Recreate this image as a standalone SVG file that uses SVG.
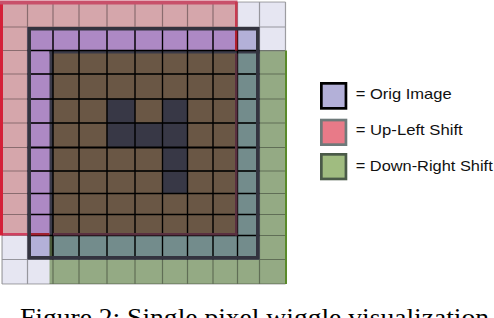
<svg xmlns="http://www.w3.org/2000/svg" width="494" height="318" viewBox="0 0 494 318">
<style>
.gl{stroke:#000;stroke-opacity:0.35;stroke-width:1.2;fill:none}
.bl{stroke:#000;stroke-width:1.3;fill:none}
.lt{font-family:"Liberation Sans",Arial,sans-serif;font-size:14.5px;fill:#111}
.cap{font-family:"Liberation Serif","Times New Roman",serif;font-size:25px;fill:#000}
</style>
<rect width="494" height="318" fill="#fff"/>
<g id="grid">
  <rect x="2" y="2" width="283.5" height="282" fill="#e6e6f2"/>
  <rect x="2" y="2" width="235.5" height="233.5" fill="#d5a6ab"/>
  <rect x="49.5" y="50.5" width="236" height="233.5" fill="#94aa84"/>
  <rect x="27.5" y="27" width="232" height="232.5" fill="#b3b0d8"/>
  <rect x="27.5" y="27" width="210" height="208.5" fill="#ad89c4"/>
  <rect x="53" y="50.5" width="206.5" height="209" fill="#738c8c"/>
  <rect x="53" y="50.5" width="184.5" height="185" fill="#6a5745"/>
  <g fill="#383846">
    <rect x="107" y="99" width="28" height="24"/>
    <rect x="162.5" y="99" width="25" height="24"/>
    <rect x="107" y="123" width="80.5" height="24.5"/>
    <rect x="162.5" y="147.5" width="25" height="46"/>
  </g>
  <!-- down-right box edge inside the original -->
  <rect x="49.5" y="50.5" width="3.5" height="185" fill="#3a3a48"/>
  <rect x="49.5" y="235.5" width="3.5" height="24" fill="#4a5a3a"/>
  <rect x="49.5" y="50.5" width="210" height="3" fill="#3a3a48"/>
  <line x1="259.5" y1="51" x2="285.5" y2="51" stroke="#777" stroke-width="1.2" stroke-dasharray="1 1"/>
  <!-- grid lines (gray) -->
  <path class="gl" d="M2 2V284M27.5 2V284M53 2V284M79 2V284M107 2V284M135 2V284M162.5 2V284M187.5 2V284M213 2V284M237.5 2V284M259.5 2V284M285.5 2V50.5
  M2 2H285.5M2 27H285.5M2 50.5H285.5M2 74H285.5M2 99H285.5M2 123H285.5M2 147.5H285.5M2 171H285.5M2 193.5H285.5M2 214.5H285.5M2 235.5H285.5M2 259.5H285.5M2 284H285.5"/>
  <!-- grid lines inside original (black) -->
  <path class="bl" d="M53 27V259.5M79 27V259.5M107 27V259.5M135 27V259.5M162.5 27V259.5M187.5 27V259.5M213 27V259.5M237.5 27V259.5
  M27.5 50.5H259.5M27.5 74H259.5M27.5 99H259.5M27.5 123H259.5M27.5 171H259.5M27.5 193.5H259.5M27.5 214.5H259.5M27.5 235.5H259.5"/>
  <path d="M27.5 147.5H259.5" stroke="#000" stroke-width="2.2"/>
  <!-- up-left shift border -->
  <rect x="0" y="2" width="3" height="233.5" fill="#d42038"/>
  <rect x="0" y="0.5" width="237.5" height="4" fill="#c8506a"/>
  <rect x="235" y="2" width="2.5" height="25" fill="#c83a50"/>
  <rect x="235" y="27" width="2.5" height="23.5" fill="#b02030"/>
  <rect x="235" y="53.5" width="2.5" height="182" fill="#5a3040"/>
  <rect x="3" y="233" width="24.5" height="2.5" fill="#d04060"/>
  <rect x="27.5" y="233" width="22" height="2.5" fill="#a02030"/>
  <rect x="53" y="233" width="184.5" height="2.5" fill="#5a3040"/>
  <!-- down-right shift outer edge -->
  <rect x="285" y="50.5" width="2" height="233.5" fill="#5a8a2a"/>
  <!-- original image border -->
  <rect x="29.25" y="28.75" width="228.5" height="229" fill="none" stroke="#33333f" stroke-width="3.5"/>
</g>
<g id="legend-orig">
  <rect x="321.35" y="83.35" width="24.6" height="25" fill="#b3b0d8" stroke="#000" stroke-width="2.7"/>
  <text class="lt" x="355.7" y="99.3" textLength="96" lengthAdjust="spacingAndGlyphs">= Orig Image</text>
</g>
<g id="legend-upleft">
  <rect x="321.35" y="120.05" width="24.6" height="24.6" fill="#e87a88" stroke="#6e7a7a" stroke-width="2.7"/>
  <text class="lt" x="355.7" y="135.3" textLength="107" lengthAdjust="spacingAndGlyphs">= Up-Left Shift</text>
</g>
<g id="legend-downright">
  <rect x="321.35" y="154.35" width="24.6" height="24.6" fill="#a0bc80" stroke="#4a5a48" stroke-width="2.7"/>
  <text class="lt" x="355.7" y="171" textLength="137" lengthAdjust="spacingAndGlyphs">= Down-Right Shift</text>
</g>
<text class="cap" x="20" y="325.5" textLength="469" lengthAdjust="spacingAndGlyphs">Figure 2: Single pixel wiggle visualization</text>
</svg>
